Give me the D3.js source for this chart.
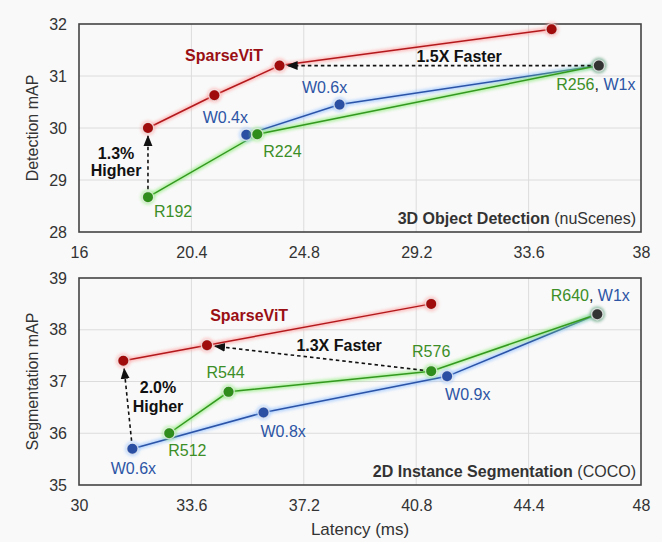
<!DOCTYPE html>
<html><head><meta charset="utf-8">
<script src="https://cdn.jsdelivr.net/npm/d3@7"></script>
<style>
html,body{margin:0;padding:0;background:#f9f9f9;}
svg{display:block;font-family:"Liberation Sans",Arial,Helvetica,sans-serif;}
</style></head>
<body><svg id="chart" width="662" height="542"></svg>
<script>
// ---------- Data: 3D Object Detection (nuScenes) ----------
const detXTicks = [16, 20.4, 24.8, 29.2, 33.6, 38];
const detYTicks = [28, 29, 30, 31, 32];
const detSparseLatency = [18.7, 21.3, 23.85, 34.5];
const detSparseMAP = [30.0, 30.63, 31.2, 31.9];
const detWidthLatency = [22.55, 26.2, 36.35];
const detWidthMAP = [29.87, 30.45, 31.2];
const detWidthLabels = ["W0.4x", "W0.6x", ""];
const detResLatency = [18.7, 22.98, 36.35];
const detResMAP = [28.67, 29.88, 31.2];
const detResLabels = ["R192", "R224", ""];

// ---------- Data: 2D Instance Segmentation (COCO) ----------
const segXTicks = [30, 33.6, 37.2, 40.8, 44.4, 48];
const segYTicks = [35, 36, 37, 38, 39];
const segSparseLatency = [31.42, 34.1, 41.28];
const segSparseMAP = [37.4, 37.7, 38.5];
const segWidthLatency = [31.71, 35.91, 41.79, 46.6];
const segWidthMAP = [35.7, 36.4, 37.1, 38.3];
const segWidthLabels = ["W0.6x", "W0.8x", "W0.9x", ""];
const segResLatency = [32.89, 34.79, 41.28, 46.6];
const segResMAP = [36.0, 36.8, 37.2, 38.3];
const segResLabels = ["R512", "R544", "R576", ""];

const C = {
  red: "#b3191c", redDot: "#a00c0c", redGlow: "#ff9a9a", redText: "#9a0f14",
  blue: "#2b53a7", blueDot: "#2a4fa3", blueGlow: "#8dbdff", blueText: "#2d55a5",
  green: "#33991f", greenDot: "#2f8d1b", greenGlow: "#86ea70", greenText: "#3c8e27",
  dark: "#333333", darkGlow: "#6fa98a"
};

const svg = d3.select("#chart");
const defs = svg.append("defs");
defs.append("filter").attr("id", "glow").attr("x", "-20%").attr("y", "-50%").attr("width", "140%").attr("height", "200%")
  .append("feGaussianBlur").attr("stdDeviation", 1.6);
defs.append("marker").attr("id", "arrow").attr("viewBox", "0 0 10 10").attr("refX", 9).attr("refY", 5)
  .attr("markerWidth", 7).attr("markerHeight", 7).attr("orient", "auto-start-reverse")
  .append("path").attr("d", "M0,1 L10,5 L0,9 z").attr("fill", "#111");

function panel(cfg) {
  const x = d3.scaleLinear().domain(d3.extent(cfg.xTicks)).range([79, 641]);
  const y = d3.scaleLinear().domain(d3.extent(cfg.yTicks)).range([cfg.bottom, cfg.top]);
  const g = svg.append("g");

  // grid
  g.append("g").selectAll("line").data(cfg.xTicks.slice(1, -1)).join("line")
    .attr("x1", d => x(d)).attr("x2", d => x(d)).attr("y1", cfg.top).attr("y2", cfg.bottom)
    .attr("stroke", "#dcdcdc").attr("stroke-width", 1);
  g.append("g").selectAll("line").data(cfg.yTicks.slice(1, -1)).join("line")
    .attr("y1", d => y(d)).attr("y2", d => y(d)).attr("x1", 79).attr("x2", 641)
    .attr("stroke", "#dcdcdc").attr("stroke-width", 1);

  // axes (labels only, frame drawn below)
  const xa = g.append("g").attr("transform", `translate(0,${cfg.bottom})`)
    .call(d3.axisBottom(x).tickValues(cfg.xTicks).tickSize(0).tickPadding(15).tickFormat(d => String(d)));
  const ya = g.append("g").attr("transform", `translate(79,0)`)
    .call(d3.axisLeft(y).tickValues(cfg.yTicks).tickSize(0).tickPadding(12).tickFormat(d => String(d)));
  [xa, ya].forEach(a => {
    a.select(".domain").remove();
    a.selectAll("text").attr("font-size", 16).attr("fill", "#333").attr("font-family", "Liberation Sans, Arial, sans-serif");
  });

  // frame
  g.append("rect").attr("x", 79).attr("y", cfg.top).attr("width", 562).attr("height", cfg.bottom - cfg.top)
    .attr("fill", "none").attr("stroke", "#444").attr("stroke-width", 1.6);

  // y title
  g.append("text").attr("transform", `translate(38,${(cfg.top + cfg.bottom) / 2}) rotate(-90)`)
    .attr("text-anchor", "middle").attr("font-size", 16).attr("fill", "#333").text(cfg.yTitle);

  const line = d3.line().x(d => x(d[0])).y(d => y(d[1]));
  const series = [
    { lat: cfg.wLat, map: cfg.wMap, col: C.blue, glow: C.blueGlow, dot: C.blueDot },
    { lat: cfg.rLat, map: cfg.rMap, col: C.green, glow: C.greenGlow, dot: C.greenDot },
    { lat: cfg.sLat, map: cfg.sMap, col: C.red, glow: C.redGlow, dot: C.redDot }
  ];
  series.forEach(s => {
    const pts = s.lat.map((v, i) => [v, s.map[i]]);
    g.append("path").attr("d", line(pts)).attr("fill", "none").attr("stroke", s.glow)
      .attr("stroke-width", 5).attr("opacity", 0.6).attr("filter", "url(#glow)");
    g.append("path").attr("d", line(pts)).attr("fill", "none").attr("stroke", s.col).attr("stroke-width", 1.5);
  });

  // dashed arrows
  cfg.arrows.forEach(a => {
    const x1 = x(a.from[0]), y1 = y(a.from[1]), x2 = x(a.to[0]), y2 = y(a.to[1]);
    const dx = x2 - x1, dy = y2 - y1, L = Math.hypot(dx, dy);
    const ux = dx / L, uy = dy / L;
    g.append("line").attr("x1", x1 + ux * 8).attr("y1", y1 + uy * 8)
      .attr("x2", x2 - ux * 8).attr("y2", y2 - uy * 8)
      .attr("stroke", "#111").attr("stroke-width", 1.6).attr("stroke-dasharray", "3.5,3")
      .attr("marker-end", "url(#arrow)");
  });

  // markers
  series.forEach((s, si) => {
    s.lat.forEach((v, i) => {
      const last = si < 2 && i === s.lat.length - 1;
      const fill = last ? C.dark : s.dot;
      const glow = last ? C.darkGlow : s.glow;
      g.append("circle").attr("cx", x(v)).attr("cy", y(s.map[i])).attr("r", 7.5)
        .attr("fill", glow).attr("opacity", 0.5).attr("filter", "url(#glow)");
      g.append("circle").attr("cx", x(v)).attr("cy", y(s.map[i])).attr("r", 5.6)
        .attr("fill", fill).attr("stroke", "#f4f4f4").attr("stroke-opacity", 0.75).attr("stroke-width", 1.2);
    });
  });

  // point labels
  const labelSets = [
    { lat: cfg.wLat, map: cfg.wMap, labels: cfg.wLabels, off: cfg.wOff, col: C.blueText },
    { lat: cfg.rLat, map: cfg.rMap, labels: cfg.rLabels, off: cfg.rOff, col: C.greenText }
  ];
  labelSets.forEach(ls => {
    ls.labels.forEach((t, i) => {
      if (!t) return;
      const o = ls.off[i];
      g.append("text").attr("x", x(ls.lat[i]) + o[0]).attr("y", y(ls.map[i]) + o[1])
        .attr("text-anchor", o[2]).attr("font-size", 16).attr("fill", ls.col).text(t);
    });
  });
  // shared endpoint label
  const sh = cfg.shared;
  const st = g.append("text").attr("x", x(cfg.wLat[cfg.wLat.length - 1]) + sh.off[0])
    .attr("y", y(cfg.wMap[cfg.wMap.length - 1]) + sh.off[1]).attr("text-anchor", "middle").attr("font-size", 16);
  st.append("tspan").attr("fill", C.greenText).text(sh.r);
  st.append("tspan").attr("fill", "#222").text(", ");
  st.append("tspan").attr("fill", C.blueText).text(sh.w);

  // annotations
  cfg.notes.forEach(n => {
    g.append("text").attr("x", x(n.x)).attr("y", y(n.y)).attr("text-anchor", "middle")
      .attr("font-size", 16).attr("font-weight", "bold").attr("fill", n.col || "#111").text(n.text);
  });

  // panel title
  const tt = g.append("text").attr("x", 636).attr("y", cfg.bottom - 8).attr("text-anchor", "end")
    .attr("font-size", 16).attr("fill", "#333");
  tt.append("tspan").attr("font-weight", "bold").text(cfg.title);
  tt.append("tspan").text(" " + cfg.subtitle);

  if (cfg.xTitle) {
    g.append("text").attr("x", 360).attr("y", cfg.bottom + 50).attr("text-anchor", "middle")
      .attr("font-size", 17).attr("fill", "#333").text(cfg.xTitle);
  }
}

panel({
  top: 24, bottom: 232, xTicks: detXTicks, yTicks: detYTicks, yTitle: "Detection mAP",
  sLat: detSparseLatency, sMap: detSparseMAP,
  wLat: detWidthLatency, wMap: detWidthMAP, wLabels: detWidthLabels,
  wOff: [[-21, -12, "middle"], [-15, -12, "middle"]],
  rLat: detResLatency, rMap: detResMAP, rLabels: detResLabels,
  rOff: [[6, 20, "start"], [6, 23, "start"]],
  shared: { r: "R256", w: "W1x", off: [-3, 24] },
  arrows: [
    { from: [detWidthLatency[2], detWidthMAP[2]], to: [detSparseLatency[2], detSparseMAP[2]] },
    { from: [detResLatency[0], detResMAP[0]], to: [detSparseLatency[0], detSparseMAP[0]] }
  ],
  notes: [
    { text: "SparseViT", x: 21.68, y: 31.29, col: C.redText },
    { text: "1.5X Faster", x: 30.88, y: 31.27 },
    { text: "1.3%", x: 17.45, y: 29.4 },
    { text: "Higher", x: 17.45, y: 29.08 }
  ],
  title: "3D Object Detection", subtitle: "(nuScenes)"
});

panel({
  top: 278, bottom: 485, xTicks: segXTicks, yTicks: segYTicks, yTitle: "Segmentation mAP",
  xTitle: "Latency (ms)",
  sLat: segSparseLatency, sMap: segSparseMAP,
  wLat: segWidthLatency, wMap: segWidthMAP, wLabels: segWidthLabels,
  wOff: [[1, 25, "middle"], [-3, 24, "start"], [-2, 24, "start"]],
  rLat: segResLatency, rMap: segResMAP, rLabels: segResLabels,
  rOff: [[-1, 23, "start"], [-3, -14, "middle"], [0, -14, "middle"]],
  shared: { r: "R640", w: "W1x", off: [-7, -13] },
  arrows: [
    { from: [segResLatency[2], segResMAP[2]], to: [segSparseLatency[1], segSparseMAP[1]] },
    { from: [segWidthLatency[0], segWidthMAP[0]], to: [segSparseLatency[0], segSparseMAP[0]] }
  ],
  notes: [
    { text: "SparseViT", x: 35.45, y: 38.17, col: C.redText },
    { text: "1.3X Faster", x: 38.33, y: 37.59 },
    { text: "2.0%", x: 32.53, y: 36.78 },
    { text: "Higher", x: 32.53, y: 36.41 }
  ],
  title: "2D Instance Segmentation", subtitle: "(COCO)"
});
</script></body></html>
